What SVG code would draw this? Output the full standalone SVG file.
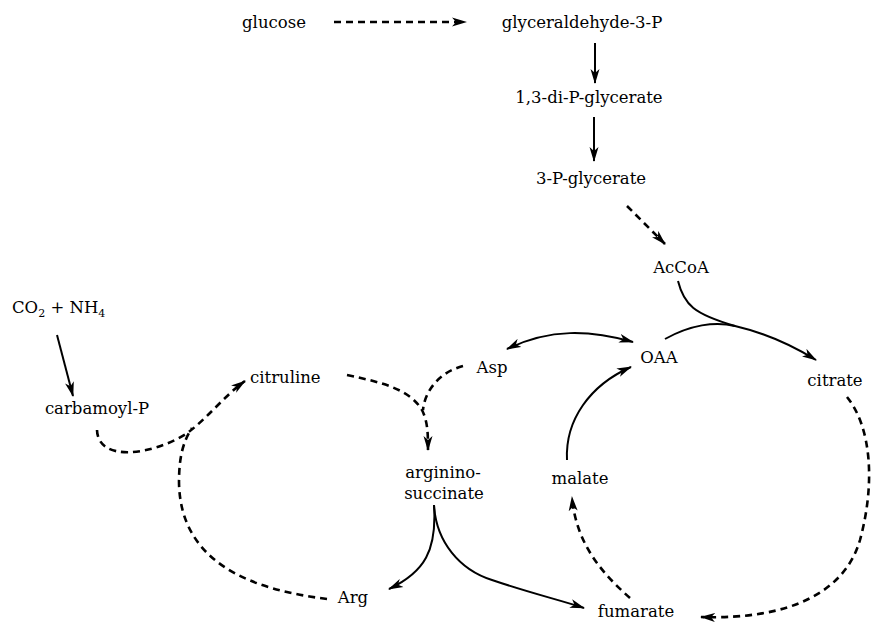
<svg xmlns="http://www.w3.org/2000/svg" width="871" height="622" viewBox="0 0 871 622">
<style>
text{font-family:"DejaVu Serif","Liberation Serif",serif;font-size:16.5px;fill:#000}
.m{text-anchor:middle}
.s{fill:none;stroke:#000;stroke-width:2}
.d{fill:none;stroke:#000;stroke-width:2.6;stroke-dasharray:7 5}
</style>
<defs>
<marker id="a" markerUnits="userSpaceOnUse" markerWidth="16" markerHeight="10" refX="14" refY="5" orient="auto-start-reverse" viewBox="0 0 16 10">
<path d="M0,0.5 L15,5 L0,9.5 L4,5 z" fill="#000"/>
</marker>
</defs>
<rect width="871" height="622" fill="#fff"/>
<g id="connectors">
<path class="d" d="M334,22 L466,22" marker-end="url(#a)"/>
<path class="s" d="M595,43 L595,83" marker-end="url(#a)"/>
<path class="s" d="M594,117 L594,161" marker-end="url(#a)"/>
<path class="d" d="M627,206 L665,244" marker-end="url(#a)"/>
<path class="s" d="M57,335 L73,396" marker-end="url(#a)"/>
<path class="d" d="M97,430 C98,462 150,456 186,434 C208,418 224,396 245,381" marker-end="url(#a)"/>
<path class="d" d="M327,599 C255,590 180,565 179,482 C179,455 184,440 192,428"/>
<path class="d" d="M347,375 C385,383 410,390 422,410 C428,422 428,435 428,450" marker-end="url(#a)"/>
<path class="d" d="M463,366 C440,372 425,390 423,410"/>
<path class="s" d="M507,349 C550,328 590,330 633,342" marker-start="url(#a)" marker-end="url(#a)"/>
<path class="s" d="M665,339 C690,325 715,321 735,326 C765,333 795,347 816,360" marker-end="url(#a)"/>
<path class="s" d="M678,281 C684,305 694,314 735,326"/>
<path class="d" d="M847,397 C872,428 875,485 860,540 C845,592 790,620 701,617" marker-end="url(#a)"/>
<path class="d" d="M630,598 C604,575 576,545 572,497" marker-end="url(#a)"/>
<path class="s" d="M567,460 C565,420 590,385 631,367" marker-end="url(#a)"/>
<path class="s" d="M434,505 C437,550 425,572 389,589" marker-end="url(#a)"/>
<path class="s" d="M434,505 C436,542 460,570 492,580 C530,593 560,600 584,608" marker-end="url(#a)"/>
</g>
<g id="glucose"><text class="m" x="274" y="28">glucose</text></g>
<g id="g3p"><text class="m" x="582" y="28">glyceraldehyde-3-P</text></g>
<g id="dpg"><text class="m" x="589" y="103">1,3-di-P-glycerate</text></g>
<g id="pg3"><text class="m" x="591" y="184">3-P-glycerate</text></g>
<g id="accoa"><text class="m" x="681" y="273">AcCoA</text></g>
<g id="co2"><text x="12" y="313">CO<tspan font-size="11" dy="4">2</tspan><tspan dy="-4"> + NH</tspan><tspan font-size="11" dy="4">4</tspan></text></g>
<g id="carbamoyl"><text class="m" x="97" y="414">carbamoyl-P</text></g>
<g id="citruline"><text x="250" y="383">citruline</text></g>
<g id="asp"><text class="m" x="492" y="373">Asp</text></g>
<g id="oaa"><text class="m" x="659" y="363">OAA</text></g>
<g id="citrate"><text class="m" x="835" y="386">citrate</text></g>
<g id="arginino"><text class="m" x="443" y="478">arginino-</text><text class="m" x="444" y="499">succinate</text></g>
<g id="malate"><text class="m" x="580" y="484">malate</text></g>
<g id="arg"><text class="m" x="353" y="603">Arg</text></g>
<g id="fumarate"><text class="m" x="636" y="617">fumarate</text></g>
</svg>
